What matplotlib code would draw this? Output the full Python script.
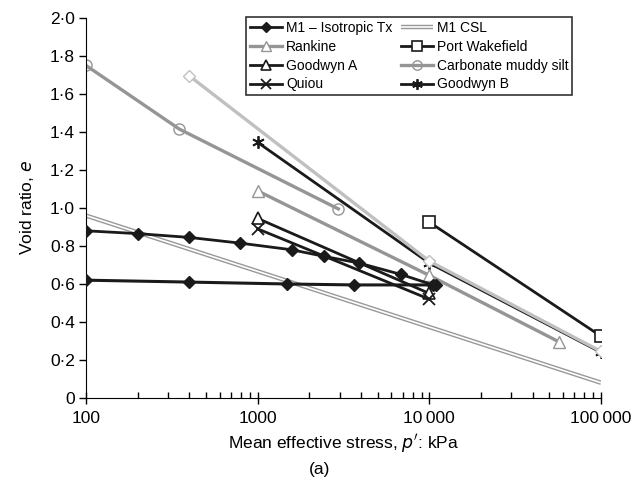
import numpy as np
import matplotlib
matplotlib.use("Agg")
import matplotlib.pyplot as plt
from matplotlib.ticker import FuncFormatter, LogLocator, MultipleLocator, NullFormatter

plt.rcParams['font.family'] = ['Liberation Sans', 'DejaVu Sans']

# M1 isotropic triaxial tests (two branches)
m1_upper_p = [100, 200, 400, 790, 1580, 2450, 3900, 6850, 10500]
m1_upper_e = [0.88, 0.865, 0.845, 0.815, 0.78, 0.745, 0.71, 0.65, 0.595]
m1_lower_p = [100, 400, 1480, 3650, 11000]
m1_lower_e = [0.62, 0.61, 0.60, 0.595, 0.595]

# M1 critical state line
csl_p = [100, 100000]
csl_e = [0.96, 0.08]

rankine_p = [1000, 10000, 57000]
rankine_e = [1.09, 0.645, 0.295]

port_p = [10000, 100000]
port_e = [0.925, 0.325]

goodwyn_a_p = [1000, 10000]
goodwyn_a_e = [0.945, 0.55]

carb_p = [100, 350, 2950]
carb_e = [1.75, 1.415, 0.995]

quiou_p = [1000, 10000]
quiou_e = [0.89, 0.52]

goodwyn_b_p = [1000, 10000, 100000]
goodwyn_b_e = [1.345, 0.71, 0.24]

# light grey series, not in the legend
other_p = [400, 10000, 100000]
other_e = [1.695, 0.72, 0.245]

fig = plt.figure(figsize=(6.39, 4.9), dpi=100)
ax = fig.add_axes([0.1346, 0.1878, 0.806, 0.7755])

grey = '#959595'
light = '#c0c0c0'
dark = '#1a1a1a'

ax.plot(other_p, other_e, color=light, lw=2.4, marker='D', ms=6,
        mfc='white', mec=light, label='_nolegend_', zorder=2)
h_carb, = ax.plot(carb_p, carb_e, color=grey, lw=2.4, marker='o', ms=8,
                  mfc='none', mec=grey, zorder=2)
h_rank, = ax.plot(rankine_p, rankine_e, color=grey, lw=2.4, marker='^', ms=9,
                  mfc='white', mec=grey, zorder=2)
h_csl1, = ax.plot(csl_p, csl_e, color='#999999', lw=3.2, solid_capstyle='butt', zorder=2)
h_csl2, = ax.plot(csl_p, csl_e, color='white', lw=1.2, solid_capstyle='butt', zorder=2)
h_gb, = ax.plot(goodwyn_b_p, goodwyn_b_e, color=dark, lw=2, marker=(6, 2, 0),
                ms=9, mec=dark, mew=1.3, zorder=1.5)
h_port, = ax.plot(port_p, port_e, color=dark, lw=2, marker='s', ms=8,
                  mfc='white', mec=dark, mew=1.2, zorder=3)
h_ga, = ax.plot(goodwyn_a_p, goodwyn_a_e, color=dark, lw=2, marker='^', ms=9,
                mfc='white', mec=dark, mew=1.2, zorder=3)
h_q, = ax.plot(quiou_p, quiou_e, color=dark, lw=2, marker='x', ms=9,
               mec=dark, mew=1.3, zorder=3)
h_m1, = ax.plot(m1_upper_p, m1_upper_e, color=dark, lw=2, marker='D', ms=6,
                mfc=dark, mec=dark, zorder=3)
ax.plot(m1_lower_p, m1_lower_e, color=dark, lw=2.2, marker='D', ms=6,
        mfc=dark, mec=dark, zorder=3)

ax.set_xscale('log')
ax.set_xlim(100, 100000)
ax.set_ylim(0, 2.0)
ax.spines['top'].set_visible(False)
ax.spines['right'].set_visible(False)

ax.yaxis.set_major_locator(MultipleLocator(0.2))
ax.yaxis.set_major_formatter(FuncFormatter(
    lambda v, pos: '0' if abs(v) < 1e-9 else f'{v:.1f}'.replace('.', '\u00b7')))
ax.xaxis.set_major_locator(LogLocator(base=10))
ax.xaxis.set_minor_locator(LogLocator(base=10, subs=np.arange(2, 10)))
ax.xaxis.set_minor_formatter(NullFormatter())
ax.xaxis.set_major_formatter(FuncFormatter(
    lambda v, pos: f'{int(round(v)):,}'.replace(',', '\u2009') if v >= 10000 else f'{int(round(v))}'))
ax.tick_params(axis='y', direction='out', length=5, width=1, labelsize=12.5, pad=3)
ax.tick_params(axis='x', which='major', direction='inout', length=9, width=1, labelsize=12.5, pad=5)
ax.tick_params(axis='x', which='minor', direction='in', length=4, width=1)

ax.set_ylabel('Void ratio, $\\it{e}$', fontsize=12.5, labelpad=10)
ax.set_xlabel("Mean effective stress, $\\it{p'}$: kPa", fontsize=12.5, labelpad=4)
fig.text(0.5, 0.041, '(a)', ha='center', va='center', fontsize=12.5)

handles = [h_m1, h_rank, h_ga, h_q, (h_csl1, h_csl2), h_port, h_carb, h_gb]
labels = ['M1 \u2013 Isotropic Tx', 'Rankine', 'Goodwyn A', 'Quiou',
          'M1 CSL', 'Port Wakefield', 'Carbonate muddy silt', 'Goodwyn B']
leg = ax.legend(handles, labels, ncol=2, loc='upper left',
                bbox_to_anchor=(0.298, 1.02), fontsize=10, frameon=True,
                fancybox=False, edgecolor='black', handlelength=2.3,
                handletextpad=0.3, columnspacing=0.6, labelspacing=0.35,
                borderpad=0.25, markerscale=0.85)
leg.get_frame().set_linewidth(1.2)

fig.savefig('out.png', dpi=100)
